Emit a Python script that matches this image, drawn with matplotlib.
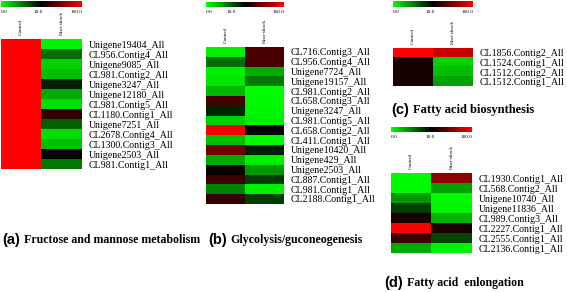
import numpy as np
import matplotlib
matplotlib.use("Agg")
import matplotlib.pyplot as plt
from matplotlib.colors import LinearSegmentedColormap, TwoSlopeNorm

# ---------------- data ----------------
columns = ["Control", "Heat-shock"]
cbar_ticks = [0.0, 10.0, 100.0]
cbar_ticklabels = ["0.0", "10.0", "100.0"]

genes_a = ["Unigene19404_All", "CL956.Contig4_All", "Unigene9085_All", "CL981.Contig2_All",
           "Unigene3247_All", "Unigene12180_All", "CL981.Contig5_All", "CL1180.Contig1_All",
           "Unigene7251_All", "CL2678.Contig4_All", "CL1300.Contig3_All", "Unigene2503_All",
           "CL981.Contig1_All"]
control_a = [100, 100, 100, 100, 100, 100, 100, 100, 100, 100, 100, 100, 100]
heat_a = [0.5, 5.7, 1.8, 2.5, 8.8, 3.3, 1.4, 27.6, 6.1, 1.4, 2.5, 10.5, 5.3]

genes_b = ["CL716.Contig3_All", "CL956.Contig4_All", "Unigene7724_All", "Unigene19157_All",
           "CL981.Contig2_All", "CL658.Contig3_All", "Unigene3247_All", "CL981.Contig5_All",
           "CL658.Contig2_All", "CL411.Contig1_All", "Unigene10420_All", "Unigene429_All",
           "Unigene2503_All", "CL887.Contig1_All", "CL981.Contig1_All", "CL2188.Contig1_All"]
control_b = [0.6, 5.7, 0.6, 1.0, 2.9, 34.7, 8.4, 1.8, 94.7, 2.5, 48.8, 3.3, 14.0, 31.0, 4.9, 27.6]
heat_b = [36.5, 36.5, 3.3, 5.3, 0.0, 0.2, 0.4, 0.6, 10.5, 0.2, 8.8, 0.6, 4.1, 7.6, 0.6, 7.6]

genes_c = ["CL1856.Contig2_All", "CL1524.Contig1_All", "CL1512.Contig2_All", "CL1512.Contig1_All"]
control_c = [100, 18.0, 18.0, 18.0]
heat_c = [80.6, 1.8, 2.5, 3.7]

genes_d = ["CL1930.Contig1_All", "CL568.Contig2_All", "Unigene10740_All", "Unigene11836_All",
           "CL989.Contig3_All", "CL2227.Contig1_All", "CL2555.Contig1_All", "CL2136.Contig1_All"]
control_d = [0.2, 0.2, 4.1, 7.6, 18.8, 100, 31.0, 3.3]
heat_d = [59.4, 3.7, 0.2, 0.4, 2.9, 18.8, 7.3, 0.6]

titles = [("(a)", "Fructose and mannose metabolism"),
          ("(b)", "Glycolysis/guconeogenesis"),
          ("(c)", "Fatty acid biosynthesis"),
          ("(d)", "Fatty acid  enlongation")]

# ---------------- style ----------------
W, H = 567, 292
fig = plt.figure(figsize=(W / 100, H / 100), dpi=100)
fig.patch.set_facecolor("white")

cmap = LinearSegmentedColormap.from_list("gbr", [(0, 1, 0), (0, 0, 0), (1, 0, 0)])
norm = TwoSlopeNorm(vmin=0.0, vcenter=10.0, vmax=100.0)
serif = "Liberation Serif"
sans = "Liberation Sans"


def px_axes(x0, y0, x1, y1):
    return fig.add_axes([x0 / W, 1 - y1 / H, (x1 - x0) / W, (y1 - y0) / H])


def panel(genes, ctrl, heat, hx0, hx1, hy0, row_h, cb_y0, cb_y1, mid_frac):
    n = len(genes)
    hy1 = hy0 + row_h * n
    ax = px_axes(hx0, hy0, hx1, hy1)
    data = np.column_stack([ctrl, heat])
    ax.imshow(data, cmap=cmap, norm=norm, aspect="auto", interpolation="nearest")
    for s in ax.spines.values():
        s.set_visible(False)
    ax.yaxis.tick_right()
    ax.set_yticks(range(n))
    ax.set_yticklabels(genes, fontfamily=serif, fontsize=7.1)
    ax.xaxis.tick_top()
    ax.set_xticks(range(2))
    ax.set_xticklabels(columns, rotation=90, fontfamily=serif, fontsize=3.8)
    ax.tick_params(axis="y", length=0, pad=5)
    ax.tick_params(axis="x", length=0, pad=3)

    # colour bar strip
    cax = px_axes(hx0, cb_y0, hx1, cb_y1)
    grad = np.concatenate([np.linspace(0, 10, 128), np.linspace(10, 100, 128)])[None, :]
    cax.imshow(grad, cmap=cmap, norm=norm, aspect="auto", interpolation="bilinear")
    cax.set_axis_off()
    ty = cb_y1 + 5
    fig.text(hx0 / W, 1 - ty / H, cbar_ticklabels[0], fontfamily=serif, fontsize=3.8,
             ha="left", va="center")
    fig.text((hx0 + mid_frac * (hx1 - hx0)) / W, 1 - ty / H, cbar_ticklabels[1],
             fontfamily=serif, fontsize=3.8, ha="center", va="center")
    fig.text(hx1 / W, 1 - ty / H, cbar_ticklabels[2], fontfamily=serif, fontsize=3.8,
             ha="right", va="center")


panel(genes_a, control_a, heat_a, 1, 82, 39, 10.0, 1, 7, 0.46)
panel(genes_b, control_b, heat_b, 206, 284, 47, 9.8, 2, 7, 0.32)
panel(genes_c, control_c, heat_c, 393, 473, 48, 9.6, 1, 7, 0.47)
panel(genes_d, control_d, heat_d, 391, 472, 173, 10.0, 127, 132, 0.48)


def title(x, y, tag, text, size=8.6):
    t = fig.text(x / W, 1 - y / H, tag, fontfamily=sans, fontweight="bold", fontsize=10.5,
                 ha="left", va="center")
    fig.canvas.draw()
    bb = t.get_window_extent()
    fig.text((bb.x1 + 4) / W, 1 - y / H, text, fontfamily=serif, fontweight="bold",
             fontsize=size, ha="left", va="center")


title(2, 240, *titles[0])
title(208, 240, *titles[1])
title(391, 110, *titles[2], size=9.0)
title(384, 283, *titles[3])

fig.savefig("out.png", dpi=100, facecolor="white")
